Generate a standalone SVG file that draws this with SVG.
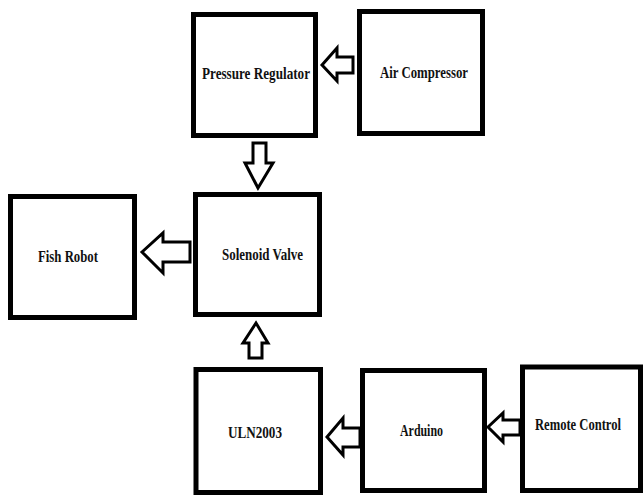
<svg xmlns="http://www.w3.org/2000/svg" width="644" height="495" viewBox="0 0 644 495">
<style>
.box{fill:#fff;stroke:#000;stroke-width:5}
.lbl{font-family:"Liberation Serif","Times New Roman",serif;font-weight:bold;font-size:16px;fill:#111;text-anchor:middle}
.arr{fill:#fff;stroke:#000;stroke-width:3;stroke-linejoin:miter}
</style>
<rect width="644" height="495" fill="#fff"/>
<g id="connectors">
<polygon class="arr" points="322,65 337,48 337,57 353,57 353,73 337,73 337,81"/>
<polygon class="arr" points="258,188 245,163 253,163 253,143 266,143 266,163 273,163"/>
<polygon class="arr" points="142,252 163,233 163,242 190,242 190,262 163,262 163,273"/>
<polygon class="arr" points="256,323 243,343 249,343 249,358 262,358 262,343 268,343"/>
<polygon class="arr" points="327,437 343,418 343,428 360,428 360,447 343,447 343,455"/>
<polygon class="arr" points="488,427 503,413 503,420 520,420 520,435 503,435 503,442"/>
</g>
<g id="pressure-regulator"><rect class="box" x="193.5" y="14.5" width="122" height="121"/><text class="lbl" x="256" y="79" textLength="108" lengthAdjust="spacingAndGlyphs">Pressure Regulator</text></g>
<g id="air-compressor"><rect class="box" x="359.5" y="11.5" width="123" height="122"/><text class="lbl" x="424" y="78" textLength="88" lengthAdjust="spacingAndGlyphs">Air Compressor</text></g>
<g id="fish-robot"><rect class="box" x="10.5" y="196.5" width="124" height="121"/><text class="lbl" x="68" y="262" textLength="60" lengthAdjust="spacingAndGlyphs">Fish Robot</text></g>
<g id="solenoid-valve"><rect class="box" x="195.5" y="194.5" width="124" height="120"/><text class="lbl" x="262.5" y="260" textLength="81" lengthAdjust="spacingAndGlyphs">Solenoid Valve</text></g>
<g id="uln2003"><rect class="box" x="196" y="369.5" width="124.5" height="123"/><text class="lbl" x="255" y="438" textLength="54" lengthAdjust="spacingAndGlyphs">ULN2003</text></g>
<g id="arduino"><rect class="box" x="362.5" y="370.5" width="122" height="120"/><text class="lbl" x="421.5" y="436" textLength="43" lengthAdjust="spacingAndGlyphs">Arduino</text></g>
<g id="remote-control"><rect class="box" x="522.5" y="367" width="118" height="123.5"/><text class="lbl" x="578" y="430" textLength="86" lengthAdjust="spacingAndGlyphs">Remote Control</text></g>
</svg>
